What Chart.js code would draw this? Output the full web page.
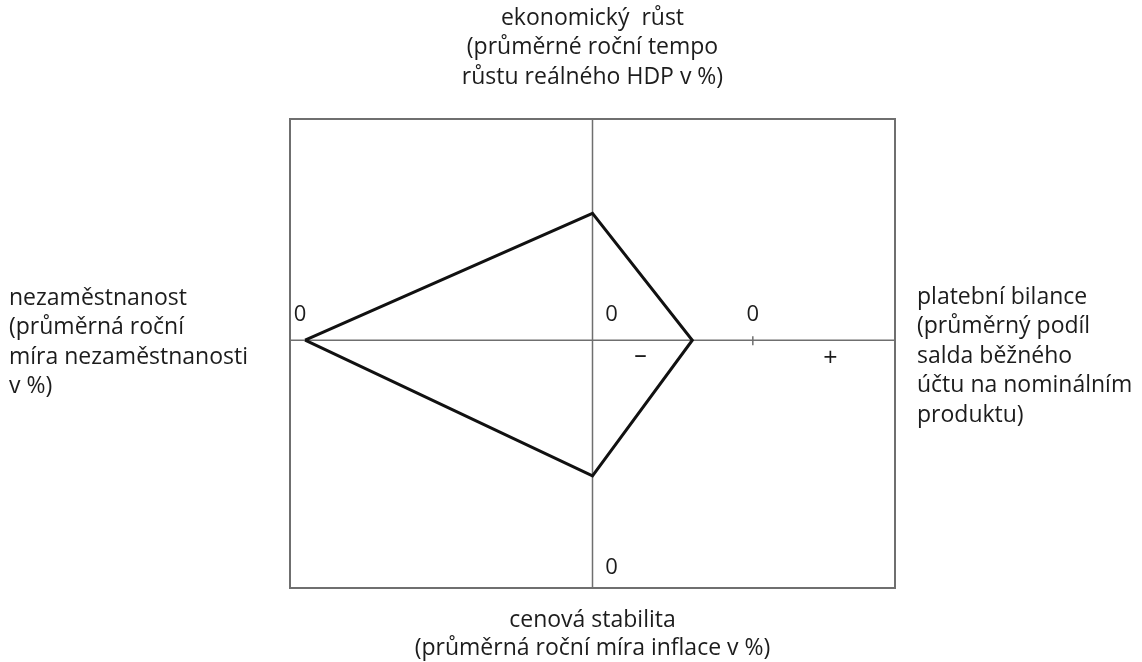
<!DOCTYPE html>
<html>
<head>
<meta charset="utf-8">
<script src="https://cdn.jsdelivr.net/npm/chart.js@4.4.1/dist/chart.umd.min.js"></script>
<style>
  html, body { margin: 0; padding: 0; background: #ffffff; }
  #wrap { width: 1142px; height: 662px; position: relative; }
</style>
</head>
<body>
<div id="wrap"><canvas id="c" width="1142" height="662"></canvas></div>
<script>
// ---- data (plot units: vertical axis at x = 0, horizontal axis at y = 0) ----
const quadrangleX = [-9.5, 0, 3.3, 0, -9.5];   // unemployment, growth, balance, inflation, close
const quadrangleY = [0, 4.3, 0, -4.6, 0];
const balanceZeroX = 5.3;                        // zero point of the balance-of-payments axis
const unemploymentZeroX = -9.5;

const topTitle = ["ekonomický  růst", "(průměrné roční tempo", "růstu reálného HDP v %)"];
const bottomTitle = ["cenová stabilita", "(průměrná roční míra inflace v %)"];
const leftTitle = ["nezaměstnanost", "(průměrná roční", "míra nezaměstnanosti", "v %)"];
const rightTitle = ["platební bilance", "(průměrný podíl", "salda běžného", "účtu na nominálním", "produktu)"];

const points = quadrangleX.map((x, i) => ({ x: x, y: quadrangleY[i] }));

const FONT = '"Open Sans", "Noto Sans", sans-serif';
const TEXT = '#1c1c1c';
const GRAY = '#6f6f6f';

const decor = {
  id: 'decor',
  beforeDatasetsDraw(chart) {
    const { ctx, chartArea: a, scales: { x, y } } = chart;
    const x0 = x.getPixelForValue(0), y0 = y.getPixelForValue(0);
    ctx.save();
    ctx.strokeStyle = GRAY; ctx.lineWidth = 2;
    ctx.strokeRect(a.left, a.top, a.right - a.left, a.bottom - a.top);
    ctx.lineWidth = 1.5;
    ctx.beginPath();
    ctx.moveTo(a.left, y0); ctx.lineTo(a.right, y0);
    ctx.moveTo(x0, a.top); ctx.lineTo(x0, a.bottom);
    const xb = x.getPixelForValue(balanceZeroX);
    ctx.moveTo(xb, y0 - 4); ctx.lineTo(xb, y0 + 5);
    ctx.stroke();
    ctx.restore();
  },
  afterDraw(chart) {
    const { ctx, chartArea: a, scales: { x, y } } = chart;
    const x0 = x.getPixelForValue(0), y0 = y.getPixelForValue(0);
    const xb = x.getPixelForValue(balanceZeroX);
    const xu = x.getPixelForValue(unemploymentZeroX);
    ctx.save();
    ctx.fillStyle = TEXT;
    ctx.textBaseline = 'middle';
    ctx.textAlign = 'center';
    ctx.font = '22px ' + FONT;
    ctx.fillText('0', xu - 5, y0 - 25);
    ctx.fillText('0', x0 + 19, y0 - 25);
    ctx.fillText('0', xb, y0 - 25);
    ctx.fillText('0', x0 + 19, a.bottom - 20);
    ctx.font = '25px ' + FONT;
    ctx.fillText('\u2013', x0 + 48, y0 + 16);
    ctx.fillText('+', x0 + 238, y0 + 19);
    ctx.font = '23px ' + FONT;
    const lh = 29.5;
    const cx = (a.left + a.right) / 2;
    topTitle.forEach((t, i) => ctx.fillText(t, cx, 18 + i * lh));
    bottomTitle.forEach((t, i) => ctx.fillText(t, cx, a.bottom + 32 + i * 28));
    ctx.textAlign = 'left';
    leftTitle.forEach((t, i) => ctx.fillText(t, 9, 298 + i * lh));
    rightTitle.forEach((t, i) => ctx.fillText(t, a.right + 22, 297 + i * lh));
    ctx.restore();
  }
};

new Chart(document.getElementById('c'), {
  type: 'scatter',
  data: {
    datasets: [{
      data: points,
      showLine: true,
      borderColor: '#111111',
      borderWidth: 3,
      borderJoinStyle: 'miter',
      pointRadius: 0,
      tension: 0,
      fill: false
    }]
  },
  options: {
    responsive: false,
    animation: false,
    layout: { padding: { left: 290, right: 247, top: 119, bottom: 74 } },
    plugins: { legend: { display: false }, tooltip: { enabled: false } },
    scales: {
      x: { type: 'linear', min: -10, max: 10, display: false },
      y: { type: 'linear', min: -8.4, max: 7.5, display: false }
    }
  },
  plugins: [decor]
});
</script>
</body>
</html>
